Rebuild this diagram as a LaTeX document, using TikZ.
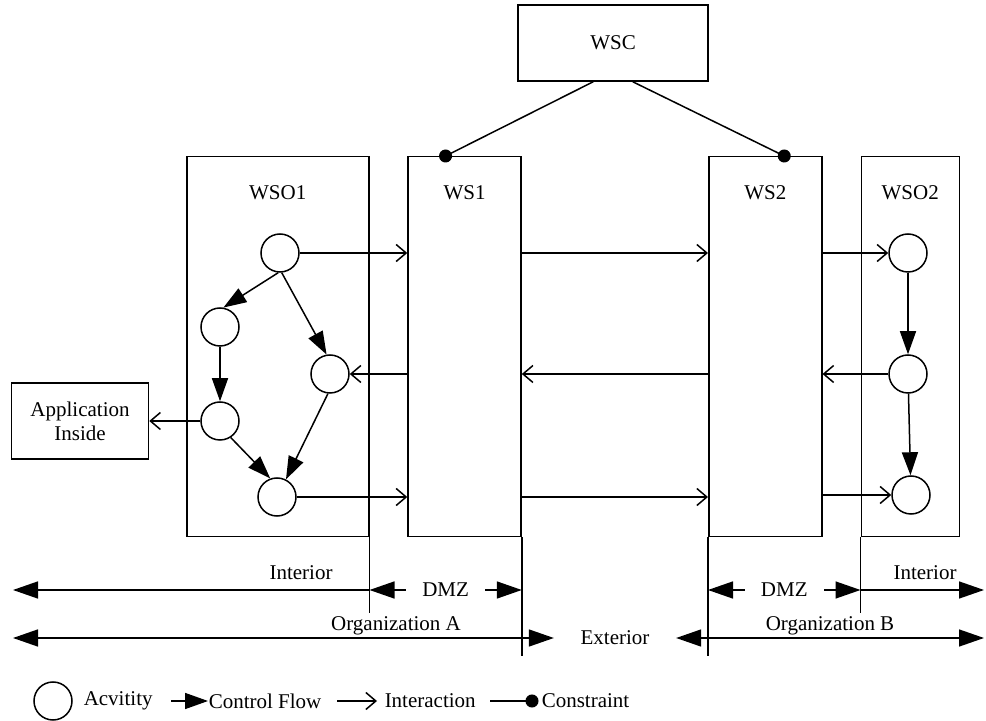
\documentclass[tikz,border=0pt]{standalone}
\usepackage{fontspec}
\setmainfont{Liberation Serif}
\usetikzlibrary{positioning, arrows.meta}

\tikzset{zt/.tip={Triangle[length=12.5pt, width=8.5pt]}}

\begin{document}
\begin{tikzpicture}[
    x=0.5pt, y=-0.5pt,
    font=\fontsize{10.5}{12}\selectfont,
    line width=0.75pt,
    box/.style={draw, minimum width=#1, minimum height=190pt, inner sep=0pt},
    act/.style={draw, circle, minimum size=19pt, inner sep=0pt},
    flow/.style={-{Triangle[length=11.5pt, width=8pt]}},
    inter/.style={-{Straight Barb[length=5pt, width=8.5pt]}},
    constr/.style={-{Circle[length=6.5pt]}, shorten >=-3.25pt},
    legtext/.style={anchor=west, inner sep=0pt}
]
\useasboundingbox (0,0) rectangle (986,721);

% services and orchestrations
\node[box=95pt, minimum height=38pt] (wsc) at (613,43) {WSC};
\node[box=91pt, anchor=north west] (wso1) at (186,156) {};
\node[box=56.5pt, right=18.9pt of wso1] (ws1) {};
\node[box=56.5pt, anchor=north west] (ws2) at (708,156) {};
\node[box=49pt, right=19pt of ws2] (wso2) {};
\node (wso1t) at ([yshift=-18.5pt]wso1.north) {WSO1};
\node (ws1t) at ([yshift=-18.5pt]ws1.north) {WS1};
\node (ws2t) at ([yshift=-18.5pt]ws2.north) {WS2};
\node (wso2t) at ([yshift=-18.5pt]wso2.north) {WSO2};
\node[box=68.5pt, minimum height=38pt, align=center] (app) at (80,421) {Application\\Inside};

% activities
\node[act] (a1) at (280,253) {};
\node[act] (a2) at (220,327) {};
\node[act] (a3) at (330,374) {};
\node[act] (a4) at (220,421) {};
\node[act] (a5) at (277,497) {};
\node[act] (b1) at (908,253) {};
\node[act] (b2) at (908,374) {};
\node[act] (b3) at (911,495) {};

% control flow
\draw[flow] (a1.265) -- (a2.80);
\draw[flow] (a1.275) -- (a3.100);
\draw[flow] (a2) -- (a4);
\draw[flow] (a4.303) -- (a5.110);
\draw[flow] (a3.264) -- (a5.63);
\draw[flow] (b1) -- (b2);
\draw[flow] (b2) -- (b3);

% interaction
\draw[inter] (a1) -- (ws1.west |- a1);
\draw[inter] (ws1.west |- a3) -- (a3);
\draw[inter] (a5) -- (ws1.west |- a5);
\draw[inter] (a4) -- (app);
\draw[inter] (ws1.east |- a1) -- (ws2.west |- a1);
\draw[inter] (ws2.west |- a3) -- (ws1.east |- a3);
\draw[inter] (ws1.east |- a5) -- (ws2.west |- a5);
\draw[inter] (ws2.east |- b1) -- (b1);
\draw[inter] (b2) -- (ws2.east |- b2);
\draw[inter] (ws2.east |- b3) -- (b3);

% constraints
\draw[constr] (wsc.243) -- ([xshift=-9.5pt]ws1.north);
\draw[constr] (wsc.297) -- ([xshift=9.5pt]ws2.north);

% zones
\coordinate (lowA) at (0,613);
\coordinate (lowB) at (0,656);
\coordinate (rowI) at (0,590);
\coordinate (rowO) at (0,638);
\coordinate (edgeL) at (13,0);
\coordinate (edgeR) at (984,0);
\draw (wso1.south east) -- (wso1.south east |- lowA);
\draw (ws1.south east) -- (ws1.south east |- lowB);
\draw (ws2.south west) -- (ws2.south west |- lowB);
\draw (wso2.south west) -- (wso2.south west |- lowA);

\draw[zt-] (edgeL |- rowI) -- (wso1.east |- rowI);
\draw[zt-zt] (wso1.east |- rowI) -- node[fill=white, inner xsep=8pt] (dmza) {DMZ} (ws1.east |- rowI);
\draw[zt-zt] (ws2.west |- rowI) -- node[fill=white, inner xsep=8pt] (dmzb) {DMZ} (wso2.west |- rowI);
\draw[-zt] (wso2.west |- rowI) -- (edgeR |- rowI);
\node (inta) at (301,573) {Interior};
\node (intb) at (925,573) {Interior};

\node[inner xsep=13pt] (ext) at (615,638) {Exterior};
\draw[zt-zt] (edgeL |- rowO) -- (ext.west);
\draw[zt-zt] (ext.east) -- (edgeR |- rowO);
\node (orga) at (396,626) {Organization A};
\node (orgb) at (830,626) {Organization B};

% legend
\node[act] (lgact) at (53,701) {};
\node[legtext] (lgacttext) at (83,701) {Acvitity};
\coordinate (lgflows) at (171,701);
\node[legtext] (lgflow) at (208,701) {Control Flow};
\draw[flow] (lgflows) -- (lgflow.west);
\coordinate (lgints) at (337,701);
\node[legtext] (lgint) at (384,701) {Interaction};
\draw[inter] (lgints) -- ([xshift=-3.5pt]lgint.west);
\coordinate (lgcons) at (490,701);
\node[legtext] (lgcon) at (541,701) {Constraint};
\draw[constr] (lgcons) -- ([xshift=-4.5pt]lgcon.west);
\end{tikzpicture}
\end{document}
